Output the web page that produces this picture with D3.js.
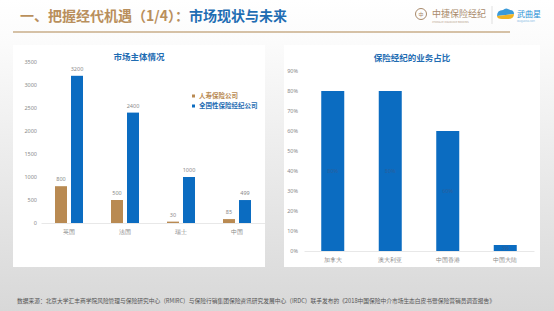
<!DOCTYPE html>
<html><head><meta charset="utf-8">
<script src="https://cdn.jsdelivr.net/npm/d3@7"></script>
<style>
html,body{margin:0;padding:0;}
body{width:554px;height:311px;overflow:hidden;font-family:"Noto Sans CJK SC","Noto Sans",sans-serif;}
</style></head>
<body>
<svg id="c" width="554" height="311"></svg>
<script>
// ---- data ----
const leftTitle = "市场主体情况";
const leftCategories = ["英国","法国","瑞士","中国"];
const seriesNames = ["人寿保险公司","全国性保险经纪公司"];
const lifeInsurers = [800,500,30,85];
const brokers = [3200,2400,1000,499];
const leftTicks = [0,500,1000,1500,2000,2500,3000,3500];

const rightTitle = "保险经纪的业务占比";
const rightCategories = ["加拿大","澳大利亚","中国香港","中国大陆"];
const brokerShare = [80,80,60,3];
const rightTicks = [0,10,20,30,40,50,60,70,80,90];

const headTitleA = "一、把握经代机遇（1/4）：";
const headTitleB = "市场现状与未来";
const footer = "数据来源：北京大学汇丰商学院风险管理与保险研究中心（RMIRC）与保险行销集团保险资讯研究发展中心（IRDC）联手发布的《2018中国保险中介市场生态白皮书暨保险营销员调查报告》";

const TAN = "#b98a52", BLUE = "#0b6cc1", TITLEBLUE = "#1f6db3", GRAY = "#8a8a8a";
const svg = d3.select("#c");

// background
const defs = svg.append("defs");
const g = defs.append("linearGradient").attr("id","bg").attr("x1",0).attr("y1",0).attr("x2",0).attr("y2",1);
g.append("stop").attr("offset","0").attr("stop-color","#ffffff");
g.append("stop").attr("offset","0.14").attr("stop-color","#fbfbfb");
g.append("stop").attr("offset","0.5").attr("stop-color","#ececec");
g.append("stop").attr("offset","1").attr("stop-color","#d8d8d8");
svg.append("rect").attr("width",554).attr("height",311).attr("fill","url(#bg)");

// header
const ht = svg.append("text").attr("x",20).attr("y",21).attr("font-size",14).attr("font-weight","bold");
ht.append("tspan").attr("fill","#b98f5c").text(headTitleA);
ht.append("tspan").attr("fill",TITLEBLUE).text(headTitleB);
svg.append("line").attr("x1",13).attr("x2",510).attr("y1",32).attr("y2",32).attr("stroke","#c9ae8a").attr("stroke-width",1.5);

// logos
const lg = svg.append("g");
lg.append("circle").attr("cx",421).attr("cy",14).attr("r",5.5).attr("fill","none").attr("stroke","#a8896a").attr("stroke-width",1);
lg.append("text").attr("x",421).attr("y",16).attr("text-anchor","middle").attr("font-size",5).attr("fill","#a8896a").text("中");
lg.append("text").attr("x",432).attr("y",17).attr("font-size",9).attr("fill","#a8896a").text("中捷保险经纪");
lg.append("text").attr("x",432).attr("y",22.5).attr("font-size",2.4).attr("fill","#b9a48d").text("ZHONGJIE INSURANCE BROKERS");
lg.append("line").attr("x1",492).attr("x2",492).attr("y1",6).attr("y2",24).attr("stroke","#ccc").attr("stroke-width",0.6);
lg.append("path").attr("d","M497,16 q0,-6 6,-6 q3,-3 7,0 q4,0 4,4 z").attr("fill","#3a9ad9");
lg.append("path").attr("d","M497,16 l17,-2 q0,5 -6,5 l-6,0 q-5,0 -5,-3z").attr("fill","#f0b323");
lg.append("text").attr("x",517).attr("y",17).attr("font-size",8).attr("fill","#2a8fd6").text("武曲星");
lg.append("text").attr("x",517).attr("y",22).attr("font-size",2.3).attr("fill","#7cb7e3").text("WUQUXING.COM");

// panels
svg.append("rect").attr("x",13).attr("y",45).attr("width",252).attr("height",222).attr("fill","#fff");
svg.append("rect").attr("x",284).attr("y",45).attr("width",256).attr("height",222).attr("fill","#fff");

// ---- left chart ----
const yL = d3.scaleLinear().domain([0,3500]).range([223,62]);
const x0 = d3.scaleBand().domain(leftCategories).range([41,265]).paddingInner(0.5).paddingOuter(0.25);
const x1 = d3.scaleBand().domain([0,1]).range([0,x0.bandwidth()]).paddingInner(0.25);
const L = svg.append("g");
L.append("text").attr("x",139).attr("y",60).attr("text-anchor","middle").attr("font-size",8.5).attr("font-weight","bold").attr("fill",TITLEBLUE).text(leftTitle);
const axL = L.append("g").attr("transform","translate(37,0)").call(d3.axisLeft(yL).tickValues(leftTicks).tickFormat(d3.format("d")).tickSize(0).tickPadding(0));
axL.select(".domain").remove();
axL.selectAll("text").attr("font-size",5.5).attr("fill",GRAY).attr("font-family","Noto Sans, sans-serif");
const axLx = L.append("g").attr("transform","translate(0,223)").call(d3.axisBottom(x0).tickSize(0).tickPadding(7));
axLx.select(".domain").attr("stroke","#e2e2e2").attr("stroke-width",0.8);
axLx.selectAll("text").attr("font-size",5.5).attr("fill",GRAY);
const leftSeries = [lifeInsurers, brokers];
const colors = [TAN, BLUE];
leftSeries.forEach((vals,si)=>{
  L.append("g").selectAll("rect").data(vals).join("rect")
    .attr("x",(d,i)=>x0(leftCategories[i])+x1(si)).attr("width",x1.bandwidth())
    .attr("y",d=>yL(d)).attr("height",d=>yL(0)-yL(d)).attr("fill",colors[si]);
  L.append("g").selectAll("text").data(vals).join("text")
    .attr("x",(d,i)=>x0(leftCategories[i])+x1(si)+x1.bandwidth()/2).attr("y",d=>yL(d)-5)
    .attr("text-anchor","middle").attr("font-size",5.5).attr("fill",GRAY).attr("font-family","Noto Sans, sans-serif").text(d=>d);
});
// legend
seriesNames.forEach((n,i)=>{
  const yy = 98 + i*10;
  L.append("rect").attr("x",192).attr("y",yy-3.5).attr("width",3).attr("height",3).attr("fill",colors[i]);
  L.append("text").attr("x",199).attr("y",yy).attr("font-size",6.5).attr("fill",i===0?TAN:TITLEBLUE).attr("font-weight","bold").text(n);
});

// ---- right chart ----
const yR = d3.scaleLinear().domain([0,90]).range([251,71]);
const xR = d3.scaleBand().domain(rightCategories).range([304,534]).paddingInner(0.6).paddingOuter(0.3);
const R = svg.append("g");
R.append("text").attr("x",412).attr("y",61).attr("text-anchor","middle").attr("font-size",8.5).attr("font-weight","bold").attr("fill",TITLEBLUE).text(rightTitle);
const axR = R.append("g").attr("transform","translate(298,0)").call(d3.axisLeft(yR).tickValues(rightTicks).tickFormat(d=>d+"%").tickSize(0).tickPadding(0));
axR.select(".domain").remove();
axR.selectAll("text").attr("font-size",5.5).attr("fill",GRAY).attr("font-family","Noto Sans, sans-serif");
const axRx = R.append("g").attr("transform","translate(0,251)").call(d3.axisBottom(xR).tickSize(0).tickPadding(7));
axRx.select(".domain").attr("stroke","#e2e2e2").attr("stroke-width",0.8);
axRx.selectAll("text").attr("font-size",5.5).attr("fill",GRAY);
R.append("g").selectAll("rect").data(brokerShare).join("rect")
  .attr("x",(d,i)=>xR(rightCategories[i])).attr("width",xR.bandwidth())
  .attr("y",d=>yR(d)).attr("height",d=>yR(0)-yR(d)).attr("fill",BLUE);
R.append("g").selectAll("text").data(brokerShare).join("text")
  .attr("x",(d,i)=>xR(rightCategories[i])+xR.bandwidth()/2).attr("y",d=>yR(d/2)+2)
  .attr("text-anchor","middle").attr("font-size",5.5).attr("fill","#2a5f9c").attr("font-family","Noto Sans, sans-serif").text(d=>d+"%");

// footer
svg.append("text").attr("x",17).attr("y",303).attr("font-size",6.2).attr("fill","#555").attr("textLength",478).attr("lengthAdjust","spacingAndGlyphs").text(footer);
</script>
</body></html>
